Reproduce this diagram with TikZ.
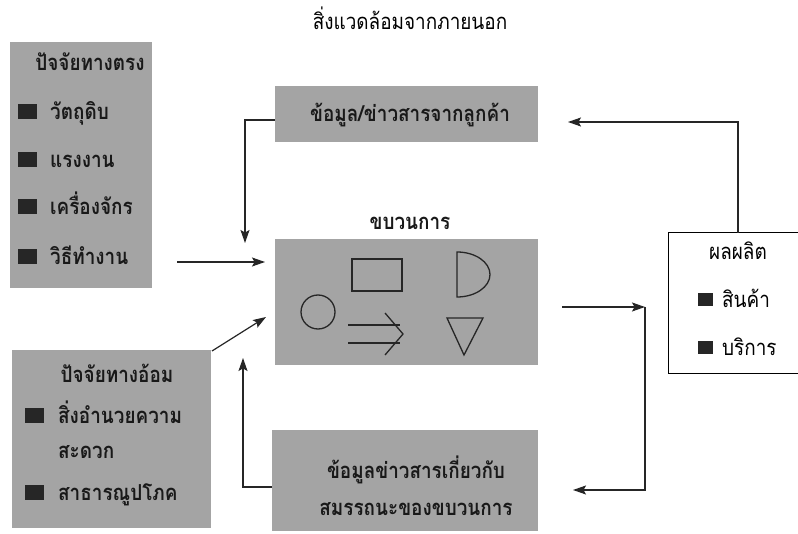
\documentclass[tikz,border=0pt]{standalone}
\usepackage{fontspec}
\newfontfamily\thaifont[Script=Thai,BoldFont={Loma Bold},FakeStretch=0.86]{Loma}
\usetikzlibrary{arrows.meta}
\definecolor{boxgray}{RGB}{164,164,164}
\begin{document}
\begin{tikzpicture}[x=1pt,y=-1pt,
  gbox/.style={fill=boxgray,draw=none,inner sep=0pt,outer sep=0pt},
  wbox/.style={fill=white,draw=black,line width=1pt,inner sep=0pt,outer sep=0pt},
  txt/.style={inner sep=0pt,font=\thaifont\fontsize{22}{25}\selectfont,text=black},
  btxt/.style={inner sep=0pt,font=\thaifont\bfseries\fontsize{22}{25}\selectfont,text=black!90},
  bul/.style={fill=black!85,draw=none,inner sep=0pt,minimum width=19pt,minimum height=15pt},
  sbul/.style={fill=black!85,draw=none,inner sep=0pt,minimum width=15pt,minimum height=13pt},
  conn/.style={line width=1.2pt,draw=black!85},
  arr/.style={conn,-{Stealth[length=13pt,width=9pt,inset=2.5pt]}},
  shp/.style={line width=1.3pt,draw=black!85}]
\useasboundingbox (0,0) rectangle (798,534);
\fill[white] (0,0) rectangle (798,534);

% title
\node[txt,anchor=base] (title) at (410,30) {สิ่งแวดล้อมจากภายนอก};

% direct factors
\node[gbox,minimum width=142pt,minimum height=246pt] (direct) at (81,165) {};
\node[btxt,anchor=base] (dh) at (90,71) {ปัจจัยทางตรง};
\node[bul] (db1) at (27.5,112) {};
\node[btxt,anchor=base west] (d1) at (50,120) {วัตถุดิบ};
\node[bul] (db2) at (27.5,160) {};
\node[btxt,anchor=base west] (d2) at (50,168) {แรงงาน};
\node[bul] (db3) at (27.5,207) {};
\node[btxt,anchor=base west] (d3) at (50,215) {เครื่องจักร};
\node[bul] (db4) at (27.5,257) {};
\node[btxt,anchor=base west] (d4) at (50,265) {วิธีทำงาน};

% indirect factors
\node[gbox,minimum width=199pt,minimum height=178pt] (indirect) at (111.5,439) {};
\node[btxt,anchor=base] (ih) at (117,383) {ปัจจัยทางอ้อม};
\node[bul] (ib1) at (34,416) {};
\node[btxt,anchor=base west] (i1) at (58,424) {สิ่งอำนวยความ};
\node[btxt,anchor=base west] (i1b) at (58,458) {สะดวก};
\node[bul] (ib2) at (34,492) {};
\node[btxt,anchor=base west] (i2) at (58,500) {สาธารณูปโภค};

% customer info
\node[gbox,minimum width=263pt,minimum height=56pt] (info1) at (406.5,114) {};
\node[btxt,anchor=base] (info1t) at (410,122) {ข้อมูล/ข่าวสารจากลูกค้า};

% process
\node[btxt,anchor=base] (proclab) at (410,230) {ขบวนการ};
\node[gbox,minimum width=263pt,minimum height=126pt] (proc) at (406.5,302) {};
\draw[shp] (352,259) rectangle (402,291);
\draw[shp] (457,252) arc[start angle=-90,end angle=90,x radius=33,y radius=22.5] -- cycle;
\draw[shp] (318,312) circle[radius=17];
\draw[shp] (348,325) -- (400,325);
\draw[shp] (348,343) -- (400,343);
\draw[shp] (385,313) -- (403,334) -- (385,355);
\draw[shp,line join=miter] (447,318) -- (483,318) -- (464,355) -- cycle;

% performance info
\node[gbox,minimum width=266pt,minimum height=101pt] (info2) at (405,480.5) {};
\node[btxt,anchor=base] (info2a) at (416,478) {ข้อมูลข่าวสารเกี่ยวกับ};
\node[btxt,anchor=base] (info2b) at (416,515) {สมรรถนะของขบวนการ};

% output
\node[wbox,minimum width=132pt,minimum height=141pt] (out) at (734,303.5) {};
\node[txt,anchor=base] (oh) at (738,260) {ผลผลิต};
\node[sbul] (ob1) at (705.5,300) {};
\node[txt,anchor=base west] (o1) at (722,308) {สินค้า};
\node[sbul] (ob2) at (705.5,348) {};
\node[txt,anchor=base west] (o2) at (722,356) {บริการ};

% connector points
\coordinate (a1s) at (177,262);
\coordinate (a1e) at (265,262);
\coordinate (c1s) at (275,120);
\coordinate (c1k) at (245,120);
\coordinate (c1e) at (245,243);
\coordinate (dgs) at (212,351);
\coordinate (dge) at (266,317);
\coordinate (c2s) at (272,487);
\coordinate (c2k) at (243,487);
\coordinate (c2e) at (243,358);
\coordinate (c3s) at (738,233);
\coordinate (c3k) at (738,122);
\coordinate (c3e) at (568,122);
\coordinate (p1s) at (562,307);
\coordinate (p1e) at (645,307);
\coordinate (p2k) at (645,490);
\coordinate (p2e) at (573,490);

\draw[arr] (a1s) -- (a1e);
\draw[arr] (c1s) -- (c1k) -- (c1e);
\draw[arr] (dgs) -- (dge);
\draw[arr] (c2s) -- (c2k) -- (c2e);
\draw[arr] (c3s) -- (c3k) -- (c3e);
\draw[arr] (p1s) -- (p1e);
\draw[arr] (p1e) -- (p2k) -- (p2e);
\end{tikzpicture}
\end{document}
